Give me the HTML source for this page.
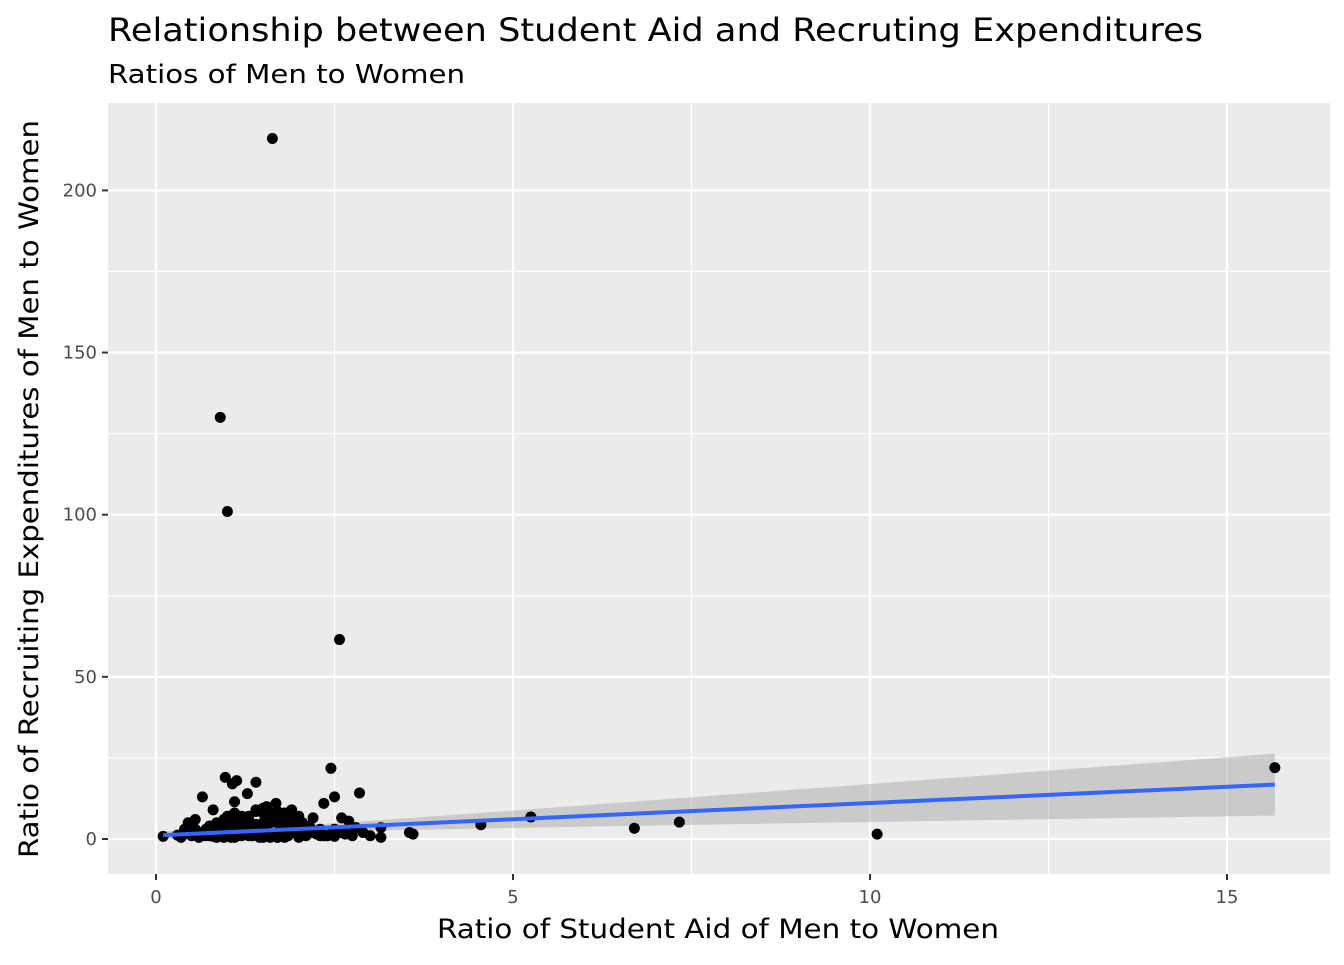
<!DOCTYPE html>
<html><head><meta charset="utf-8"><style>
body{margin:0;background:#fff;}
svg text{font-family:"DejaVu Sans","Liberation Sans",sans-serif;}
</style></head><body>
<svg id="chart" width="1344" height="960" xmlns="http://www.w3.org/2000/svg">
<text x="108" y="41" font-size="32" fill="#000" textLength="1095" lengthAdjust="spacingAndGlyphs">Relationship between Student Aid and Recruting Expenditures</text>
<text x="108" y="83" font-size="26" fill="#000" textLength="357" lengthAdjust="spacingAndGlyphs">Ratios of Men to Women</text>
<rect x="108" y="103" width="1222" height="771" fill="#ebebeb"/>
<g id="grid"></g>
<g id="band"></g>
<g id="points"></g>
<g id="fit"></g>
<g id="axes"></g>
<text x="718" y="938" font-size="27" text-anchor="middle" fill="#000" textLength="562" lengthAdjust="spacingAndGlyphs">Ratio of Student Aid of Men to Women</text>
<text transform="translate(38,489) rotate(-90)" font-size="27" text-anchor="middle" fill="#000" textLength="738" lengthAdjust="spacingAndGlyphs">Ratio of Recruiting Expenditures of Men to Women</text>
</svg>
<script>
const xTicks=[0,5,10,15];
const yTicks=[0,50,100,150,200];
const xMinor=[2.5,7.5,12.5];
const yMinor=[25,75,125,175];
const aidRatio=[1.63,0.9,1.0,2.57,2.45,2.5,2.85,2.35,0.97,1.13,1.4,1.07,0.65,1.28,1.68,1.1,0.8,1.9,15.67,10.1,7.33,6.7,5.25,4.55,3.55,3.6,3.15,3.15,3.0,2.9,2.8,0.1,
0.3,0.4,0.5,0.55,0.6,0.6,0.7,0.7,0.75,0.8,0.85,0.9,0.9,0.95,1.0,1.0,1.05,1.1,1.15,1.2,1.2,1.25,1.3,1.35,1.4,1.45,1.5,1.5,1.55,1.6,1.65,1.7,1.75,1.8,1.85,1.9,1.95,2.0,2.05,2.1,2.15,2.2,2.3,2.4,2.5,2.6,2.7,0.55,0.65,0.85,1.0,1.1,1.2,1.3,1.45,1.55,1.7,1.85,2.0,2.2,2.4,0.95,1.05,1.25,1.35,1.5,1.6,1.8,0.75,1.15,2.1,2.3,0.5,1.4,1.6,0.9,1.3,1.7,
0.35,0.45,0.6,0.7,0.8,0.9,1.0,1.1,1.2,1.3,1.4,1.5,1.6,1.7,1.8,1.9,2.0,2.1,2.2,2.3,2.45,2.55,2.65,2.75,0.5,0.65,0.8,0.95,1.05,1.15,1.25,1.35,1.45,1.55,1.65,1.75,1.85,1.95,2.05,2.15,2.25,2.35,2.5,0.75,0.85,1.0,1.2,1.4,1.6,1.8,2.0,2.2,1.1,1.3,1.5,1.7,1.9,2.6,2.7,0.4,0.55];
const recruitRatio=[216,130,101,61.5,21.8,13,14.2,11,19,18,17.5,17,13,14,11,11.5,9,9,22,1.5,5.2,3.3,6.8,4.4,2,1.5,3.5,0.5,1,2,3.5,0.8,
1.2,1.5,1,6,2,0.5,3,1,4,2.5,5,3,1,6,2,7,4,8,3,5,1,6,7,2,9,4,8,3,10,5,1,7,2,8,4,6,2,3,5,1,4,2,3,1,3,2,2,3,1,2,3,0.5,4,1,0.5,2,0.5,1,0.5,2,1,0.5,0.5,1.5,1,0.5,1,0.5,2,1,1.5,1,3,2,0.5,4,3,0.5,0.5,5,
1,2,1.5,2,2.5,3.5,4.5,5.5,4.5,5,6,5,4,4.5,3.5,3,2.5,2,1.5,2,1.5,1,2,1.5,0.8,1.5,1.8,2.5,3,3.5,4,4.5,5.5,6,5,4,3,2.5,1.5,1,0.8,1,0.5,6,7,8.5,8,7.5,7,6.5,6,5,9.5,8.5,7.5,6.5,5.5,3,2.5,0.5,0.3];
const fitCoef=[1.1,1.0];      // intercept, slope
const fitSE=[0.5,0.335];      // se at mean, se of slope
const fitMeanX=[1.2];
const fitRange=[0.1,15.67];
const X=v=>156+v*71.4, Y=v=>839-v*3.243;
const NS='http://www.w3.org/2000/svg';
function mk(tag,attrs,parent){const e=document.createElementNS(NS,tag);for(const k in attrs)e.setAttribute(k,attrs[k]);document.getElementById(parent).appendChild(e);return e;}
xMinor.forEach(v=>{const e=mk('line',{x1:X(v),x2:X(v),y1:103,y2:874,stroke:'#fff','stroke-width':1.1},'grid');

});
yMinor.forEach(v=>{const e=mk('line',{x1:108,x2:1330,y1:Y(v),y2:Y(v),stroke:'#fff','stroke-width':1.1},'grid');

});
xTicks.forEach(v=>{const e=mk('line',{x1:X(v),x2:X(v),y1:103,y2:874,stroke:'#fff','stroke-width':2.2},'grid');


const t=mk('line',{x1:X(v),x2:X(v),y1:874,y2:880,stroke:'#333','stroke-width':2},'axes');


const l=mk('text',{x:X(v),y:903,'font-size':18,'text-anchor':'middle',fill:'#4d4d4d'},'axes');l.textContent=v;

});
yTicks.forEach(v=>{const e=mk('line',{x1:108,x2:1330,y1:Y(v),y2:Y(v),stroke:'#fff','stroke-width':2.2},'grid');


const t=mk('line',{x1:102,x2:108,y1:Y(v),y2:Y(v),stroke:'#333','stroke-width':2},'axes');


const l=mk('text',{x:97,y:Y(v)+6,'font-size':18,'text-anchor':'end',fill:'#4d4d4d'},'axes');l.textContent=v;

});
aidRatio.forEach((a,i)=>{const c=mk('circle',{cx:X(a),cy:Y(recruitRatio[i]),r:5.5,fill:'#000'},'points');

});
const pred=x=>fitCoef[0]+fitCoef[1]*x;
const se=x=>1.96*Math.sqrt(fitSE[0]**2+((x-fitMeanX[0])*fitSE[1])**2);
let up=[],lo=[];
for(let k=0;k<=40;k++){const x=fitRange[0]+(fitRange[1]-fitRange[0])*k/40;up.push(X(x)+','+Y(pred(x)+se(x)));lo.unshift(X(x)+','+Y(pred(x)-se(x)));}
const b=mk('polygon',{points:up.concat(lo).join(' '),fill:'#999','fill-opacity':0.4},'band');


const f=mk('line',{x1:X(fitRange[0]),y1:Y(pred(fitRange[0])),x2:X(fitRange[1]),y2:Y(pred(fitRange[1])),stroke:'#3366ff','stroke-width':4},'fit');


</script>
</body></html>
